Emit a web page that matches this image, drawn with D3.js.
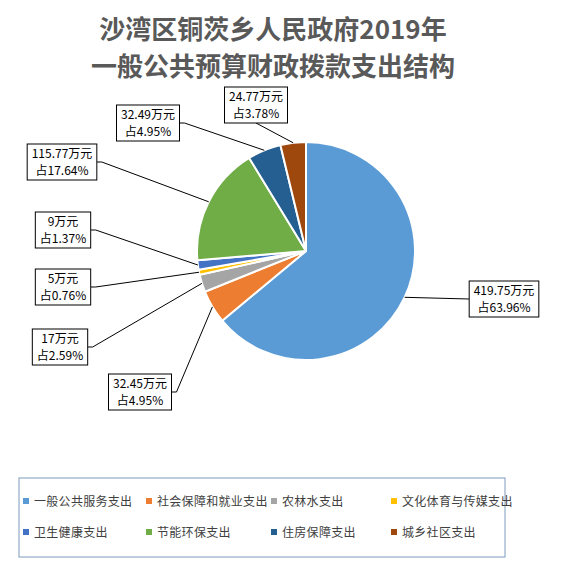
<!DOCTYPE html>
<html>
<head>
<meta charset="utf-8">
<script src="https://cdn.jsdelivr.net/npm/d3@7"></script>
<style>
  body { margin: 0; background: #fff; }
  svg { display: block; font-family: "Noto Sans CJK SC", "DejaVu Sans", sans-serif; }
</style>
</head>
<body>
<svg id="chart" width="588" height="570"></svg>
<script>
// data
const categories = ['一般公共服务支出', '社会保障和就业支出', '农林水支出', '文化体育与传媒支出',
                    '卫生健康支出', '节能环保支出', '住房保障支出', '城乡社区支出'];
const values = [419.75, 32.45, 17, 5, 9, 115.77, 32.49, 24.77];
const valueLabels = ['419.75万元', '32.45万元', '17万元', '5万元', '9万元', '115.77万元', '32.49万元', '24.77万元'];
const shareLabels = ['占63.96%', '占4.95%', '占2.59%', '占0.76%', '占1.37%', '占17.64%', '占4.95%', '占3.78%'];
const colors = ['#5B9BD5', '#ED7D31', '#A5A5A5', '#FFC000', '#4472C4', '#70AD47', '#255E91', '#9E480E'];

// label box centres and which side the leader line leaves from
const labelLayout = [
    { x: 504, y: 299, side: 'l' },
    { x: 140, y: 392, side: 'r' },
    { x: 60,  y: 347, side: 'r' },
    { x: 63,  y: 287, side: 'r' },
    { x: 63,  y: 230, side: 'r' },
    { x: 62,  y: 162, side: 'r' },
    { x: 148, y: 123, side: 'r' },
    { x: 256, y: 105, side: 'b' }
];

const svg = d3.select('#chart');
const cx = 306, cy = 251, radius = 109;

// title
const title = svg.append('text')
    .attr('text-anchor', 'middle')
    .attr('fill', '#595959')
    .attr('font-size', 26)
    .attr('font-weight', 700);
title.append('tspan').attr('x', 273).attr('y', 39).text('沙湾区铜茨乡人民政府2019年');
title.append('tspan').attr('x', 273).attr('y', 76).text('一般公共预算财政拨款支出结构');

// pie
const pie = d3.pie().sort(null).value(d => d);
const arcs = pie(values);
const arc = d3.arc().innerRadius(0).outerRadius(radius);

const g = svg.append('g').attr('transform', `translate(${cx},${cy})`);
g.selectAll('path.slice')
    .data(arcs)
    .enter()
    .append('path')
    .attr('class', 'slice')
    .attr('d', arc)
    .attr('fill', (d, i) => colors[i])
    .attr('stroke', '#fff')
    .attr('stroke-width', 2)
    .attr('stroke-linejoin', 'round');

// data labels with leader lines
const labels = svg.append('g');
arcs.forEach((d, i) => {
    const lay = labelLayout[i];
    const mid = (d.startAngle + d.endAngle) / 2;
    const px = cx + radius * Math.sin(mid);
    const py = cy - radius * Math.cos(mid);

    const t = labels.append('text')
        .attr('text-anchor', 'middle')
        .attr('font-size', 12)
        .attr('fill', '#000');
    t.append('tspan').attr('x', lay.x).attr('y', lay.y - 4).text(valueLabels[i]);
    t.append('tspan').attr('x', lay.x).attr('y', lay.y + 13).text(shareLabels[i]);

    const bb = t.node().getBBox();
    const w = bb.width + 9, h = 36;
    const bx = lay.x - w / 2, by = lay.y - h / 2;

    let pts;
    if (lay.side === 'l') {
        pts = [[bx, lay.y], [px, py]];
    } else if (lay.side === 'r') {
        pts = [[bx + w, lay.y], [bx + w + 5, lay.y], [px, py]];
    } else {
        pts = [[lay.x, by + h], [px, py]];
    }
    labels.insert('path', 'text')
        .attr('d', d3.line()(pts))
        .attr('fill', 'none')
        .attr('stroke', '#000')
        .attr('stroke-width', 1);

    labels.insert('rect', 'text')
        .attr('x', bx).attr('y', by)
        .attr('width', w).attr('height', h)
        .attr('fill', '#fff')
        .attr('stroke', '#000')
        .attr('stroke-width', 1);
});

// legend
svg.append('rect')
    .attr('x', 19).attr('y', 478)
    .attr('width', 486).attr('height', 79)
    .attr('fill', 'none')
    .attr('stroke', '#7E9BBE')
    .attr('stroke-width', 1);

const colX = [23, 146, 271, 391];
const rowY = [501, 532];
const legend = svg.append('g');
categories.forEach((c, i) => {
    const x = colX[i % 4], y = rowY[Math.floor(i / 4)];
    legend.append('rect')
        .attr('x', x).attr('y', y - 3)
        .attr('width', 6).attr('height', 6)
        .attr('fill', colors[i]);
    legend.append('text')
        .attr('x', x + 11).attr('y', y + 4.5)
        .attr('font-size', 12)
        .attr('letter-spacing', 0.3)
        .attr('fill', '#404040')
        .text(c);
});
</script>
</body>
</html>
